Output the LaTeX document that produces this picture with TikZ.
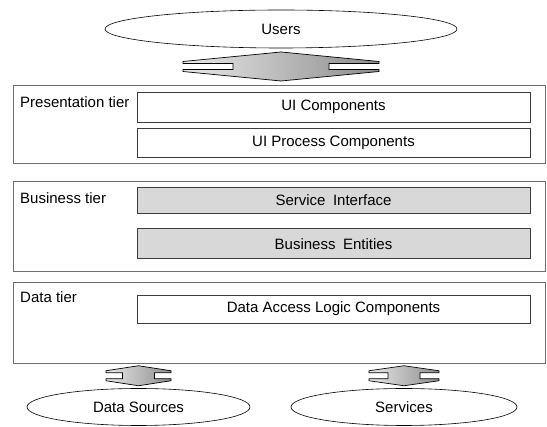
\documentclass[tikz,border=0pt]{standalone}
\usepackage{fontspec}
\setmainfont{Liberation Sans}
\usepackage{xcolor}
\definecolor{edgegray}{HTML}{3C3C3C}
\definecolor{tiergray}{HTML}{6E6E6E}
\definecolor{speckgray}{HTML}{D8D8D8}
\definecolor{arrlight}{HTML}{E8E8E8}
\definecolor{arrdark}{HTML}{8C8C8C}
\usepackage{tikz}
\usetikzlibrary{shapes.geometric, positioning, calc}
\tikzset{
  tierbox/.style ={rectangle, draw=tiergray, line width=0.6pt, minimum width=532pt, inner sep=0pt},
  compbox/.style ={rectangle, draw=edgegray, line width=0.8pt, minimum width=393pt, inner sep=0pt,
                   font=\fontsize{15}{18}\selectfont},
  compboxs/.style={compbox, fill=speckgray},
  tierlbl/.style ={anchor=west, inner sep=0pt, font=\fontsize{15}{18}\selectfont},
  endpt/.style   ={ellipse, draw=black, line width=0.6pt, inner sep=0pt, font=\fontsize{15}{18}\selectfont},
  pics/dblarrow/.style n args={4}{code={
    \shadedraw[left color=arrlight, right color=arrdark, draw=black, line width=0.7pt]
      (-#1,#4+2) -- (0,#3) -- (#1,#4+2) -- (#1,#4) -- (#2,#4) -- (#2,-#4) -- (#1,-#4) -- (#1,-#4-2)
      -- (0,-#3) -- (-#1,-#4-2) -- (-#1,-#4) -- (-#2,-#4) -- (-#2,#4) -- (-#1,#4) -- cycle;
  }},
}
\begin{document}
\begin{tikzpicture}[x=1pt, y=-1pt]
  \useasboundingbox (0,0) rectangle (547,427);
  \node[endpt, minimum width=352pt, minimum height=38pt] (users) at (281,29) {Users};
  % tiers
  \node[tierbox, minimum height=78pt] (presTier) at (279,124) {};
  \node[tierbox, minimum height=90pt] (busTier) at (279,226) {};
  \node[tierbox, minimum height=81pt] (dataTier) at (279,322.5) {};
  \node[tierlbl] (presLbl) at (20,102) {Presentation tier};
  \node[tierlbl] (busLbl) at (20,198) {Business tier};
  \node[tierlbl] (dataLbl) at (20,297) {Data tier};
  % components
  \node[compbox, minimum height=30pt] (uiComp) at (333.5,107) {UI Components};
  \node[compbox, minimum height=29pt, below=6pt of uiComp] (uiProc) {UI Process Components};
  \node[compboxs, minimum height=26pt] (svcIf) at (333.5,200) {Service\hspace{0.5em}Interface};
  \node[compboxs, minimum height=30pt, below=15pt of svcIf] (busEnt) {Business\hspace{0.5em}Entities};
  \node[compbox, minimum height=28pt] (dalc) at (333.5,309) {Data Access Logic Components};
  % sources
  \node[endpt, minimum width=223pt, minimum height=37pt] (dataSrc) at (138.5,407) {Data Sources};
  \node[endpt, minimum width=226pt, minimum height=37pt] (services) at (404,407) {Services};
  % exchange arrows
  \pic at ($(users.south)!0.5!(users.south |- presTier.north)$) {dblarrow={98}{48}{14.5}{3}};
  \pic at ($(dataSrc.north)!0.5!(dataSrc.north |- dataTier.south)$) {dblarrow={32.5}{16}{10}{3}};
  \pic at ($(services.north)!0.5!(services.north |- dataTier.south)$) {dblarrow={35}{16}{10}{3}};
\end{tikzpicture}
\end{document}
